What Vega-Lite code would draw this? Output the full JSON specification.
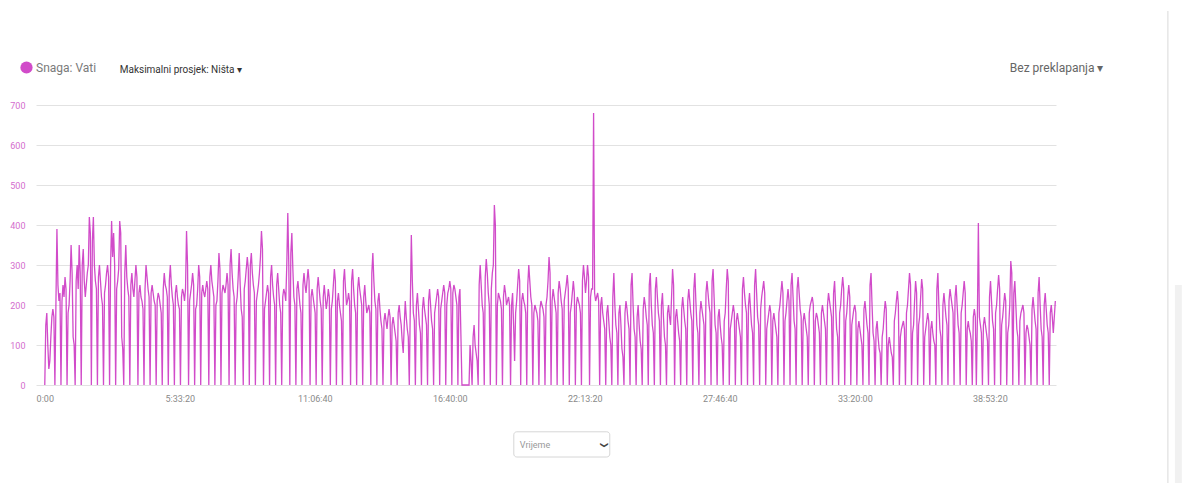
{
"$schema": "https://vega.github.io/schema/vega-lite/v6.json",
"autosize": {"type": "none"},
"width": 1020,
"height": 280,
"padding": {"left": 36, "top": 105, "right": 126, "bottom": 98},
"background": "white",
"config": {"view": {"stroke": null}, "font": "Roboto"},
"resolve": {"axis": {"x": "independent", "y": "independent"}},
"datasets": {
"power": [
{"t":0,"w":0},{"t":150,"w":150},{"t":300,"w":180},{"t":450,"w":100},{"t":600,"w":40},{"t":750,"w":60},{"t":900,"w":120},{"t":1050,"w":170},{"t":1200,"w":190},{"t":1350,"w":170},{"t":1500,"w":0},{"t":1650,"w":200},{"t":1800,"w":390},{"t":1950,"w":250},{"t":2100,"w":210},{"t":2250,"w":230},{"t":2400,"w":0},{"t":2550,"w":210},{"t":2700,"w":250},{"t":2850,"w":220},
{"t":3000,"w":270},{"t":3150,"w":240},{"t":3300,"w":0},{"t":3450,"w":180},{"t":3600,"w":200},{"t":3750,"w":260},{"t":3900,"w":350},{"t":4050,"w":280},{"t":4200,"w":120},{"t":4350,"w":100},{"t":4500,"w":0},{"t":4650,"w":260},{"t":4800,"w":300},{"t":4950,"w":240},{"t":5100,"w":350},{"t":5250,"w":280},{"t":5400,"w":0},{"t":5550,"w":300},{"t":5700,"w":340},{"t":5850,"w":260},
{"t":6000,"w":220},{"t":6150,"w":250},{"t":6300,"w":280},{"t":6450,"w":300},{"t":6600,"w":420},{"t":6750,"w":380},{"t":6900,"w":0},{"t":7050,"w":360},{"t":7200,"w":420},{"t":7350,"w":300},{"t":7500,"w":260},{"t":7650,"w":240},{"t":7800,"w":0},{"t":7950,"w":270},{"t":8100,"w":300},{"t":8250,"w":260},{"t":8400,"w":220},{"t":8550,"w":200},{"t":8700,"w":0},{"t":8850,"w":230},
{"t":9000,"w":250},{"t":9150,"w":280},{"t":9300,"w":300},{"t":9450,"w":270},{"t":9600,"w":0},{"t":9750,"w":300},{"t":9900,"w":410},{"t":10050,"w":320},{"t":10200,"w":380},{"t":10350,"w":300},{"t":10500,"w":0},{"t":10650,"w":240},{"t":10800,"w":260},{"t":10950,"w":290},{"t":11100,"w":410},{"t":11250,"w":380},{"t":11400,"w":120},{"t":11550,"w":90},{"t":11700,"w":0},{"t":11850,"w":280},
{"t":12000,"w":350},{"t":12150,"w":270},{"t":12300,"w":240},{"t":12450,"w":220},{"t":12600,"w":0},{"t":12750,"w":250},{"t":12900,"w":280},{"t":13050,"w":240},{"t":13200,"w":220},{"t":13350,"w":260},{"t":13500,"w":300},{"t":13650,"w":270},{"t":13800,"w":0},{"t":13950,"w":230},{"t":14100,"w":250},{"t":14250,"w":220},{"t":14400,"w":210},{"t":14550,"w":190},{"t":14700,"w":0},{"t":14850,"w":240},
{"t":15000,"w":300},{"t":15150,"w":270},{"t":15300,"w":240},{"t":15450,"w":220},{"t":15600,"w":0},{"t":15750,"w":230},{"t":15900,"w":250},{"t":16050,"w":230},{"t":16200,"w":210},{"t":16350,"w":200},{"t":16500,"w":0},{"t":16650,"w":210},{"t":16800,"w":230},{"t":16950,"w":220},{"t":17100,"w":200},{"t":17250,"w":180},{"t":17400,"w":0},{"t":17550,"w":240},{"t":17700,"w":280},{"t":17850,"w":250},
{"t":18000,"w":240},{"t":18150,"w":220},{"t":18300,"w":0},{"t":18450,"w":260},{"t":18600,"w":300},{"t":18750,"w":250},{"t":18900,"w":220},{"t":19050,"w":200},{"t":19200,"w":0},{"t":19350,"w":230},{"t":19500,"w":250},{"t":19650,"w":220},{"t":19800,"w":200},{"t":19950,"w":190},{"t":20100,"w":0},{"t":20250,"w":220},{"t":20400,"w":240},{"t":20550,"w":230},{"t":20700,"w":210},{"t":20850,"w":240},
{"t":21000,"w":385},{"t":21150,"w":300},{"t":21300,"w":0},{"t":21450,"w":210},{"t":21600,"w":230},{"t":21750,"w":250},{"t":21900,"w":280},{"t":22050,"w":250},{"t":22200,"w":0},{"t":22350,"w":190},{"t":22500,"w":200},{"t":22650,"w":240},{"t":22800,"w":300},{"t":22950,"w":270},{"t":23100,"w":0},{"t":23250,"w":230},{"t":23400,"w":250},{"t":23550,"w":230},{"t":23700,"w":220},{"t":23850,"w":240},
{"t":24000,"w":260},{"t":24150,"w":240},{"t":24300,"w":0},{"t":24450,"w":270},{"t":24600,"w":300},{"t":24750,"w":260},{"t":24900,"w":240},{"t":25050,"w":220},{"t":25200,"w":0},{"t":25350,"w":200},{"t":25500,"w":210},{"t":25650,"w":260},{"t":25800,"w":330},{"t":25950,"w":290},{"t":26100,"w":0},{"t":26250,"w":230},{"t":26400,"w":250},{"t":26550,"w":240},{"t":26700,"w":230},{"t":26850,"w":250},
{"t":27000,"w":280},{"t":27150,"w":250},{"t":27300,"w":0},{"t":27450,"w":300},{"t":27600,"w":340},{"t":27750,"w":280},{"t":27900,"w":240},{"t":28050,"w":220},{"t":28200,"w":0},{"t":28350,"w":200},{"t":28500,"w":220},{"t":28650,"w":270},{"t":28800,"w":330},{"t":28950,"w":250},{"t":29100,"w":190},{"t":29250,"w":170},{"t":29400,"w":0},{"t":29550,"w":240},{"t":29700,"w":260},{"t":29850,"w":290},
{"t":30000,"w":320},{"t":30150,"w":290},{"t":30300,"w":0},{"t":30450,"w":300},{"t":30600,"w":330},{"t":30750,"w":280},{"t":30900,"w":250},{"t":31050,"w":230},{"t":31200,"w":0},{"t":31350,"w":210},{"t":31500,"w":230},{"t":31650,"w":250},{"t":31800,"w":280},{"t":31950,"w":320},{"t":32100,"w":385},{"t":32250,"w":340},{"t":32400,"w":0},{"t":32550,"w":190},{"t":32700,"w":210},{"t":32850,"w":230},
{"t":33000,"w":250},{"t":33150,"w":230},{"t":33300,"w":0},{"t":33450,"w":270},{"t":33600,"w":300},{"t":33750,"w":250},{"t":33900,"w":220},{"t":34050,"w":200},{"t":34200,"w":0},{"t":34350,"w":250},{"t":34500,"w":280},{"t":34650,"w":240},{"t":34800,"w":200},{"t":34950,"w":180},{"t":35100,"w":0},{"t":35250,"w":220},{"t":35400,"w":240},{"t":35550,"w":230},{"t":35700,"w":210},{"t":35850,"w":300},
{"t":36000,"w":430},{"t":36150,"w":300},{"t":36300,"w":0},{"t":36450,"w":330},{"t":36600,"w":380},{"t":36750,"w":290},{"t":36900,"w":220},{"t":37050,"w":200},{"t":37200,"w":0},{"t":37350,"w":240},{"t":37500,"w":260},{"t":37650,"w":230},{"t":37800,"w":200},{"t":37950,"w":180},{"t":38100,"w":0},{"t":38250,"w":250},{"t":38400,"w":280},{"t":38550,"w":250},{"t":38700,"w":230},{"t":38850,"w":260},
{"t":39000,"w":290},{"t":39150,"w":260},{"t":39300,"w":0},{"t":39450,"w":220},{"t":39600,"w":240},{"t":39750,"w":220},{"t":39900,"w":200},{"t":40050,"w":180},{"t":40200,"w":0},{"t":40350,"w":240},{"t":40500,"w":270},{"t":40650,"w":240},{"t":40800,"w":210},{"t":40950,"w":190},{"t":41100,"w":0},{"t":41250,"w":220},{"t":41400,"w":250},{"t":41550,"w":220},{"t":41700,"w":190},{"t":41850,"w":210},
{"t":42000,"w":240},{"t":42150,"w":220},{"t":42300,"w":0},{"t":42450,"w":190},{"t":42600,"w":210},{"t":42750,"w":250},{"t":42900,"w":290},{"t":43050,"w":260},{"t":43200,"w":0},{"t":43350,"w":210},{"t":43500,"w":230},{"t":43650,"w":200},{"t":43800,"w":180},{"t":43950,"w":160},{"t":44100,"w":0},{"t":44250,"w":260},{"t":44400,"w":290},{"t":44550,"w":240},{"t":44700,"w":200},{"t":44850,"w":210},
{"t":45000,"w":230},{"t":45150,"w":210},{"t":45300,"w":0},{"t":45450,"w":260},{"t":45600,"w":290},{"t":45750,"w":240},{"t":45900,"w":200},{"t":46050,"w":180},{"t":46200,"w":0},{"t":46350,"w":240},{"t":46500,"w":270},{"t":46650,"w":240},{"t":46800,"w":220},{"t":46950,"w":200},{"t":47100,"w":0},{"t":47250,"w":220},{"t":47400,"w":250},{"t":47550,"w":210},{"t":47700,"w":180},{"t":47850,"w":190},
{"t":48000,"w":200},{"t":48150,"w":180},{"t":48300,"w":0},{"t":48450,"w":280},{"t":48600,"w":330},{"t":48750,"w":260},{"t":48900,"w":210},{"t":49050,"w":190},{"t":49200,"w":0},{"t":49350,"w":210},{"t":49500,"w":230},{"t":49650,"w":190},{"t":49800,"w":160},{"t":49950,"w":140},{"t":50100,"w":0},{"t":50250,"w":160},{"t":50400,"w":180},{"t":50550,"w":160},{"t":50700,"w":140},{"t":50850,"w":170},
{"t":51000,"w":190},{"t":51150,"w":170},{"t":51300,"w":0},{"t":51450,"w":150},{"t":51600,"w":170},{"t":51750,"w":150},{"t":51900,"w":130},{"t":52050,"w":110},{"t":52200,"w":0},{"t":52350,"w":180},{"t":52500,"w":200},{"t":52650,"w":170},{"t":52800,"w":150},{"t":52950,"w":110},{"t":53100,"w":80},{"t":53250,"w":150},{"t":53400,"w":210},{"t":53550,"w":170},{"t":53700,"w":140},{"t":53850,"w":120},
{"t":54000,"w":0},{"t":54150,"w":200},{"t":54300,"w":375},{"t":54450,"w":260},{"t":54600,"w":180},{"t":54750,"w":160},{"t":54900,"w":0},{"t":55050,"w":200},{"t":55200,"w":230},{"t":55350,"w":190},{"t":55500,"w":150},{"t":55650,"w":130},{"t":55800,"w":0},{"t":55950,"w":190},{"t":56100,"w":220},{"t":56250,"w":190},{"t":56400,"w":170},{"t":56550,"w":150},{"t":56700,"w":0},{"t":56850,"w":210},
{"t":57000,"w":240},{"t":57150,"w":200},{"t":57300,"w":160},{"t":57450,"w":140},{"t":57600,"w":0},{"t":57750,"w":180},{"t":57900,"w":200},{"t":58050,"w":220},{"t":58200,"w":240},{"t":58350,"w":220},{"t":58500,"w":0},{"t":58650,"w":190},{"t":58800,"w":210},{"t":58950,"w":230},{"t":59100,"w":250},{"t":59250,"w":230},{"t":59400,"w":0},{"t":59550,"w":200},{"t":59700,"w":230},{"t":59850,"w":240},
{"t":60000,"w":260},{"t":60150,"w":240},{"t":60300,"w":0},{"t":60450,"w":230},{"t":60600,"w":250},{"t":60750,"w":240},{"t":60900,"w":220},{"t":61050,"w":200},{"t":61200,"w":0},{"t":61350,"w":220},{"t":61500,"w":240},{"t":61650,"w":120},{"t":61800,"w":0},{"t":61950,"w":0},{"t":62100,"w":0},{"t":62250,"w":0},{"t":62400,"w":0},{"t":62550,"w":0},{"t":62700,"w":0},{"t":62850,"w":0},
{"t":63000,"w":100},{"t":63150,"w":60},{"t":63300,"w":0},{"t":63450,"w":120},{"t":63600,"w":150},{"t":63750,"w":100},{"t":63900,"w":80},{"t":64050,"w":60},{"t":64200,"w":0},{"t":64350,"w":250},{"t":64500,"w":300},{"t":64650,"w":250},{"t":64800,"w":200},{"t":64950,"w":180},{"t":65100,"w":0},{"t":65250,"w":270},{"t":65400,"w":315},{"t":65550,"w":280},{"t":65700,"w":230},{"t":65850,"w":200},
{"t":66000,"w":0},{"t":66150,"w":240},{"t":66300,"w":280},{"t":66450,"w":300},{"t":66600,"w":450},{"t":66750,"w":400},{"t":66900,"w":0},{"t":67050,"w":200},{"t":67200,"w":230},{"t":67350,"w":220},{"t":67500,"w":210},{"t":67650,"w":190},{"t":67800,"w":0},{"t":67950,"w":220},{"t":68100,"w":250},{"t":68250,"w":230},{"t":68400,"w":200},{"t":68550,"w":210},{"t":68700,"w":220},{"t":68850,"w":200},
{"t":69000,"w":0},{"t":69150,"w":200},{"t":69300,"w":230},{"t":69450,"w":150},{"t":69600,"w":60},{"t":69750,"w":180},{"t":69900,"w":210},{"t":70050,"w":250},{"t":70200,"w":290},{"t":70350,"w":260},{"t":70500,"w":0},{"t":70650,"w":210},{"t":70800,"w":230},{"t":70950,"w":210},{"t":71100,"w":200},{"t":71250,"w":180},{"t":71400,"w":0},{"t":71550,"w":250},{"t":71700,"w":300},{"t":71850,"w":260},
{"t":72000,"w":220},{"t":72150,"w":200},{"t":72300,"w":0},{"t":72450,"w":180},{"t":72600,"w":200},{"t":72750,"w":190},{"t":72900,"w":180},{"t":73050,"w":160},{"t":73200,"w":0},{"t":73350,"w":190},{"t":73500,"w":210},{"t":73650,"w":200},{"t":73800,"w":190},{"t":73950,"w":170},{"t":74100,"w":0},{"t":74250,"w":200},{"t":74400,"w":220},{"t":74550,"w":260},{"t":74700,"w":320},{"t":74850,"w":280},
{"t":75000,"w":0},{"t":75150,"w":210},{"t":75300,"w":240},{"t":75450,"w":220},{"t":75600,"w":200},{"t":75750,"w":180},{"t":75900,"w":0},{"t":76050,"w":230},{"t":76200,"w":260},{"t":76350,"w":240},{"t":76500,"w":210},{"t":76650,"w":190},{"t":76800,"w":0},{"t":76950,"w":210},{"t":77100,"w":230},{"t":77250,"w":250},{"t":77400,"w":275},{"t":77550,"w":240},{"t":77700,"w":0},{"t":77850,"w":180},
{"t":78000,"w":200},{"t":78150,"w":230},{"t":78300,"w":260},{"t":78450,"w":230},{"t":78600,"w":0},{"t":78750,"w":200},{"t":78900,"w":220},{"t":79050,"w":210},{"t":79200,"w":200},{"t":79350,"w":180},{"t":79500,"w":0},{"t":79650,"w":260},{"t":79800,"w":300},{"t":79950,"w":270},{"t":80100,"w":230},{"t":80250,"w":260},{"t":80400,"w":300},{"t":80550,"w":270},{"t":80700,"w":0},{"t":80850,"w":220},
{"t":81000,"w":240},{"t":81150,"w":240},{"t":81300,"w":680},{"t":81450,"w":230},{"t":81600,"w":210},{"t":81750,"w":220},{"t":81900,"w":230},{"t":82050,"w":210},{"t":82200,"w":0},{"t":82350,"w":200},{"t":82500,"w":220},{"t":82650,"w":180},{"t":82800,"w":160},{"t":82950,"w":140},{"t":83100,"w":0},{"t":83250,"w":180},{"t":83400,"w":200},{"t":83550,"w":160},{"t":83700,"w":120},{"t":83850,"w":100},
{"t":84000,"w":0},{"t":84150,"w":220},{"t":84300,"w":280},{"t":84450,"w":200},{"t":84600,"w":150},{"t":84750,"w":130},{"t":84900,"w":0},{"t":85050,"w":180},{"t":85200,"w":200},{"t":85350,"w":150},{"t":85500,"w":90},{"t":85650,"w":70},{"t":85800,"w":0},{"t":85950,"w":180},{"t":86100,"w":210},{"t":86250,"w":190},{"t":86400,"w":160},{"t":86550,"w":140},{"t":86700,"w":0},{"t":86850,"w":250},
{"t":87000,"w":280},{"t":87150,"w":200},{"t":87300,"w":140},{"t":87450,"w":120},{"t":87600,"w":0},{"t":87750,"w":170},{"t":87900,"w":200},{"t":88050,"w":150},{"t":88200,"w":110},{"t":88350,"w":90},{"t":88500,"w":0},{"t":88650,"w":190},{"t":88800,"w":220},{"t":88950,"w":200},{"t":89100,"w":170},{"t":89250,"w":150},{"t":89400,"w":0},{"t":89550,"w":250},{"t":89700,"w":280},{"t":89850,"w":200},
{"t":90000,"w":150},{"t":90150,"w":130},{"t":90300,"w":0},{"t":90450,"w":240},{"t":90600,"w":270},{"t":90750,"w":220},{"t":90900,"w":180},{"t":91050,"w":160},{"t":91200,"w":0},{"t":91350,"w":200},{"t":91500,"w":230},{"t":91650,"w":170},{"t":91800,"w":120},{"t":91950,"w":100},{"t":92100,"w":0},{"t":92250,"w":180},{"t":92400,"w":200},{"t":92550,"w":170},{"t":92700,"w":150},{"t":92850,"w":220},
{"t":93000,"w":290},{"t":93150,"w":250},{"t":93300,"w":0},{"t":93450,"w":170},{"t":93600,"w":190},{"t":93750,"w":160},{"t":93900,"w":130},{"t":94050,"w":110},{"t":94200,"w":0},{"t":94350,"w":190},{"t":94500,"w":220},{"t":94650,"w":190},{"t":94800,"w":160},{"t":94950,"w":140},{"t":95100,"w":0},{"t":95250,"w":210},{"t":95400,"w":240},{"t":95550,"w":210},{"t":95700,"w":180},{"t":95850,"w":160},
{"t":96000,"w":0},{"t":96150,"w":240},{"t":96300,"w":280},{"t":96450,"w":210},{"t":96600,"w":150},{"t":96750,"w":130},{"t":96900,"w":0},{"t":97050,"w":180},{"t":97200,"w":210},{"t":97350,"w":190},{"t":97500,"w":170},{"t":97650,"w":150},{"t":97800,"w":0},{"t":97950,"w":230},{"t":98100,"w":260},{"t":98250,"w":230},{"t":98400,"w":200},{"t":98550,"w":180},{"t":98700,"w":0},{"t":98850,"w":260},
{"t":99000,"w":290},{"t":99150,"w":220},{"t":99300,"w":150},{"t":99450,"w":130},{"t":99600,"w":0},{"t":99750,"w":170},{"t":99900,"w":190},{"t":100050,"w":150},{"t":100200,"w":120},{"t":100350,"w":100},{"t":100500,"w":0},{"t":100650,"w":160},{"t":100800,"w":180},{"t":100950,"w":240},{"t":101100,"w":290},{"t":101250,"w":260},{"t":101400,"w":0},{"t":101550,"w":140},{"t":101700,"w":160},{"t":101850,"w":180},
{"t":102000,"w":200},{"t":102150,"w":180},{"t":102300,"w":0},{"t":102450,"w":160},{"t":102600,"w":180},{"t":102750,"w":160},{"t":102900,"w":140},{"t":103050,"w":120},{"t":103200,"w":0},{"t":103350,"w":240},{"t":103500,"w":270},{"t":103650,"w":230},{"t":103800,"w":200},{"t":103950,"w":180},{"t":104100,"w":0},{"t":104250,"w":200},{"t":104400,"w":230},{"t":104550,"w":190},{"t":104700,"w":150},{"t":104850,"w":130},
{"t":105000,"w":0},{"t":105150,"w":250},{"t":105300,"w":290},{"t":105450,"w":230},{"t":105600,"w":170},{"t":105750,"w":150},{"t":105900,"w":0},{"t":106050,"w":190},{"t":106200,"w":220},{"t":106350,"w":240},{"t":106500,"w":260},{"t":106650,"w":230},{"t":106800,"w":0},{"t":106950,"w":140},{"t":107100,"w":160},{"t":107250,"w":180},{"t":107400,"w":200},{"t":107550,"w":180},{"t":107700,"w":0},{"t":107850,"w":160},
{"t":108000,"w":180},{"t":108150,"w":160},{"t":108300,"w":140},{"t":108450,"w":120},{"t":108600,"w":0},{"t":108750,"w":180},{"t":108900,"w":200},{"t":109050,"w":230},{"t":109200,"w":260},{"t":109350,"w":230},{"t":109500,"w":0},{"t":109650,"w":160},{"t":109800,"w":180},{"t":109950,"w":210},{"t":110100,"w":240},{"t":110250,"w":210},{"t":110400,"w":0},{"t":110550,"w":250},{"t":110700,"w":280},{"t":110850,"w":220},
{"t":111000,"w":160},{"t":111150,"w":140},{"t":111300,"w":0},{"t":111450,"w":240},{"t":111600,"w":270},{"t":111750,"w":230},{"t":111900,"w":190},{"t":112050,"w":170},{"t":112200,"w":0},{"t":112350,"w":160},{"t":112500,"w":180},{"t":112650,"w":160},{"t":112800,"w":140},{"t":112950,"w":120},{"t":113100,"w":0},{"t":113250,"w":180},{"t":113400,"w":200},{"t":113550,"w":210},{"t":113700,"w":220},{"t":113850,"w":200},
{"t":114000,"w":0},{"t":114150,"w":160},{"t":114300,"w":180},{"t":114450,"w":170},{"t":114600,"w":150},{"t":114750,"w":130},{"t":114900,"w":0},{"t":115050,"w":180},{"t":115200,"w":200},{"t":115350,"w":180},{"t":115500,"w":160},{"t":115650,"w":140},{"t":115800,"w":0},{"t":115950,"w":200},{"t":116100,"w":230},{"t":116250,"w":210},{"t":116400,"w":190},{"t":116550,"w":170},{"t":116700,"w":0},{"t":116850,"w":230},
{"t":117000,"w":260},{"t":117150,"w":200},{"t":117300,"w":140},{"t":117450,"w":120},{"t":117600,"w":0},{"t":117750,"w":180},{"t":117900,"w":200},{"t":118050,"w":240},{"t":118200,"w":270},{"t":118350,"w":240},{"t":118500,"w":0},{"t":118650,"w":160},{"t":118800,"w":180},{"t":118950,"w":220},{"t":119100,"w":250},{"t":119250,"w":220},{"t":119400,"w":0},{"t":119550,"w":150},{"t":119700,"w":170},{"t":119850,"w":190},
{"t":120000,"w":200},{"t":120150,"w":180},{"t":120300,"w":0},{"t":120450,"w":140},{"t":120600,"w":160},{"t":120750,"w":140},{"t":120900,"w":120},{"t":121050,"w":100},{"t":121200,"w":0},{"t":121350,"w":190},{"t":121500,"w":210},{"t":121650,"w":180},{"t":121800,"w":150},{"t":121950,"w":130},{"t":122100,"w":0},{"t":122250,"w":250},{"t":122400,"w":280},{"t":122550,"w":200},{"t":122700,"w":130},{"t":122850,"w":110},
{"t":123000,"w":0},{"t":123150,"w":140},{"t":123300,"w":160},{"t":123450,"w":120},{"t":123600,"w":90},{"t":123750,"w":80},{"t":123900,"w":0},{"t":124050,"w":120},{"t":124200,"w":140},{"t":124350,"w":180},{"t":124500,"w":210},{"t":124650,"w":190},{"t":124800,"w":0},{"t":124950,"w":100},{"t":125100,"w":120},{"t":125250,"w":100},{"t":125400,"w":80},{"t":125550,"w":70},{"t":125700,"w":0},{"t":125850,"w":160},
{"t":126000,"w":180},{"t":126150,"w":210},{"t":126300,"w":235},{"t":126450,"w":200},{"t":126600,"w":0},{"t":126750,"w":120},{"t":126900,"w":140},{"t":127050,"w":150},{"t":127200,"w":160},{"t":127350,"w":140},{"t":127500,"w":0},{"t":127650,"w":180},{"t":127800,"w":200},{"t":127950,"w":240},{"t":128100,"w":280},{"t":128250,"w":250},{"t":128400,"w":0},{"t":128550,"w":130},{"t":128700,"w":150},{"t":128850,"w":210},
{"t":129000,"w":260},{"t":129150,"w":230},{"t":129300,"w":0},{"t":129450,"w":150},{"t":129600,"w":170},{"t":129750,"w":220},{"t":129900,"w":265},{"t":130050,"w":240},{"t":130200,"w":0},{"t":130350,"w":120},{"t":130500,"w":140},{"t":130650,"w":160},{"t":130800,"w":180},{"t":130950,"w":160},{"t":131100,"w":0},{"t":131250,"w":140},{"t":131400,"w":160},{"t":131550,"w":130},{"t":131700,"w":110},{"t":131850,"w":100},
{"t":132000,"w":0},{"t":132150,"w":240},{"t":132300,"w":280},{"t":132450,"w":200},{"t":132600,"w":140},{"t":132750,"w":120},{"t":132900,"w":0},{"t":133050,"w":200},{"t":133200,"w":230},{"t":133350,"w":200},{"t":133500,"w":170},{"t":133650,"w":150},{"t":133800,"w":0},{"t":133950,"w":210},{"t":134100,"w":240},{"t":134250,"w":220},{"t":134400,"w":200},{"t":134550,"w":180},{"t":134700,"w":0},{"t":134850,"w":220},
{"t":135000,"w":250},{"t":135150,"w":200},{"t":135300,"w":150},{"t":135450,"w":130},{"t":135600,"w":0},{"t":135750,"w":180},{"t":135900,"w":200},{"t":136050,"w":230},{"t":136200,"w":260},{"t":136350,"w":230},{"t":136500,"w":0},{"t":136650,"w":140},{"t":136800,"w":160},{"t":136950,"w":140},{"t":137100,"w":130},{"t":137250,"w":110},{"t":137400,"w":0},{"t":137550,"w":170},{"t":137700,"w":190},{"t":137850,"w":170},
{"t":138000,"w":0},{"t":138150,"w":160},{"t":138300,"w":405},{"t":138450,"w":170},{"t":138600,"w":150},{"t":138750,"w":130},{"t":138900,"w":0},{"t":139050,"w":150},{"t":139200,"w":170},{"t":139350,"w":150},{"t":139500,"w":130},{"t":139650,"w":110},{"t":139800,"w":0},{"t":139950,"w":220},{"t":140100,"w":260},{"t":140250,"w":210},{"t":140400,"w":160},{"t":140550,"w":140},{"t":140700,"w":0},{"t":140850,"w":180},
{"t":141000,"w":200},{"t":141150,"w":240},{"t":141300,"w":275},{"t":141450,"w":240},{"t":141600,"w":0},{"t":141750,"w":150},{"t":141900,"w":170},{"t":142050,"w":200},{"t":142200,"w":230},{"t":142350,"w":210},{"t":142500,"w":0},{"t":142650,"w":130},{"t":142800,"w":150},{"t":142950,"w":200},{"t":143100,"w":310},{"t":143250,"w":280},{"t":143400,"w":0},{"t":143550,"w":230},{"t":143700,"w":260},{"t":143850,"w":200},
{"t":144000,"w":140},{"t":144150,"w":120},{"t":144300,"w":0},{"t":144450,"w":160},{"t":144600,"w":180},{"t":144750,"w":190},{"t":144900,"w":200},{"t":145050,"w":180},{"t":145200,"w":0},{"t":145350,"w":130},{"t":145500,"w":150},{"t":145650,"w":140},{"t":145800,"w":120},{"t":145950,"w":100},{"t":146100,"w":0},{"t":146250,"w":190},{"t":146400,"w":220},{"t":146550,"w":190},{"t":146700,"w":160},{"t":146850,"w":140},
{"t":147000,"w":0},{"t":147150,"w":230},{"t":147300,"w":270},{"t":147450,"w":200},{"t":147600,"w":140},{"t":147750,"w":120},{"t":147900,"w":0},{"t":148050,"w":200},{"t":148200,"w":230},{"t":148350,"w":190},{"t":148500,"w":150},{"t":148650,"w":130},{"t":148800,"w":0},{"t":148950,"w":180},{"t":149100,"w":200},{"t":149250,"w":170},{"t":149400,"w":130},{"t":149550,"w":170},{"t":149700,"w":210}
]
},
"layer": [
{
"data": {"name": "power"},
"mark": {"type": "line", "strokeWidth": 1.3, "opacity": 0.85},
"encoding": {
"x": {"field": "t", "type": "quantitative",
"scale": {"domain": [-1300, 149800], "nice": false, "zero": false},
"axis": {"values": [0, 20000, 40000, 60000, 80000, 100000, 120000, 140000],
"labelExpr": "datum.value == 0 ? '0:00' : floor(datum.value/3600) + ':' + (floor(datum.value%3600/60) < 10 ? '0' : '') + floor(datum.value%3600/60) + ':' + (datum.value%60 < 10 ? '0' : '') + (datum.value%60)",
"title": null, "grid": false, "ticks": false, "domain": false,
"labelColor": "#8a8a8a", "labelFontSize": 9, "labelPadding": 9, "labelFlush": false, "labelOverlap": false}},
"y": {"field": "w", "type": "quantitative",
"scale": {"domain": [0, 700], "nice": false},
"axis": {"values": [0, 100, 200, 300, 400, 500, 600, 700], "title": null, "grid": true,
"gridColor": "#e2e2e2", "ticks": false, "domain": false, "labelOverlap": false,
"labelColor": "#d46ccd", "labelFontSize": 9, "labelPadding": 11}},
"color": {"datum": "Snaga: Vati", "type": "nominal", "scale": {"range": ["#c92cc0"]},
"legend": {"orient": "none", "legendX": -16, "legendY": -44, "title": null, "padding": 0,
"symbolType": "circle", "symbolSize": 150, "symbolFillColor": "#c92cc0", "symbolStrokeWidth": 0,
"labelFontSize": 12, "labelColor": "#7a7a7a", "labelOffset": 3, "labelFont": "Roboto",
"encode": {"symbols": {"update": {"fill": {"value": "#c92cc0"}, "strokeWidth": {"value": 0}, "opacity": {"value": 1}}}}}}
}
},
{
"data": {"values": [{}]},
"mark": {"type": "text", "text": "Maksimalni prosjek: Ništa ▾", "align": "left", "baseline": "middle", "fontSize": 10, "color": "#333333"},
"encoding": {"x": {"datum": 11110, "type": "quantitative", "axis": null}, "y": {"datum": 787, "type": "quantitative", "axis": null}}
},
{
"data": {"values": [{}]},
"mark": {"type": "text", "text": "Bez preklapanja ▾", "align": "left", "baseline": "middle", "fontSize": 12, "color": "#666666"},
"encoding": {"x": {"datum": 142960, "type": "quantitative", "axis": null}, "y": {"datum": 792, "type": "quantitative", "axis": null}}
},
{
"data": {"values": [{}]},
"mark": {"type": "rect", "fill": "white", "stroke": "#d6d6d6", "strokeWidth": 1, "cornerRadius": 3},
"encoding": {"x": {"datum": 69480, "type": "quantitative", "axis": null}, "x2": {"datum": 83700},
"y": {"datum": -117, "type": "quantitative", "axis": null}, "y2": {"datum": -180}}
},
{
"data": {"values": [{}]},
"mark": {"type": "text", "text": "Vrijeme", "align": "left", "baseline": "middle", "fontSize": 9, "color": "#999999"},
"encoding": {"x": {"datum": 70370, "type": "quantitative", "axis": null}, "y": {"datum": -151, "type": "quantitative", "axis": null}}
},
{
"data": {"values": [{}]},
"mark": {"type": "text", "text": "❯", "align": "center", "baseline": "middle", "fontSize": 8, "angle": 90, "font": "DejaVu Sans", "fontWeight": "bold", "color": "#444444"},
"encoding": {"x": {"datum": 82815, "type": "quantitative", "axis": null}, "y": {"datum": -150, "type": "quantitative", "axis": null}}
},
{
"data": {"values": [{}]},
"mark": {"type": "rule", "color": "#e6e6e6", "strokeWidth": 1.5},
"encoding": {"x": {"datum": 166370, "type": "quantitative", "axis": null}, "y": {"datum": 935, "type": "quantitative", "axis": null}, "y2": {"datum": -245}}
},
{
"data": {"values": [{}]},
"mark": {"type": "rect", "fill": "#f1f1f1"},
"encoding": {"x": {"datum": 167410, "type": "quantitative", "axis": null}, "x2": {"datum": 168440},
"y": {"datum": 250, "type": "quantitative", "axis": null}, "y2": {"datum": -245}}
}
]
}
